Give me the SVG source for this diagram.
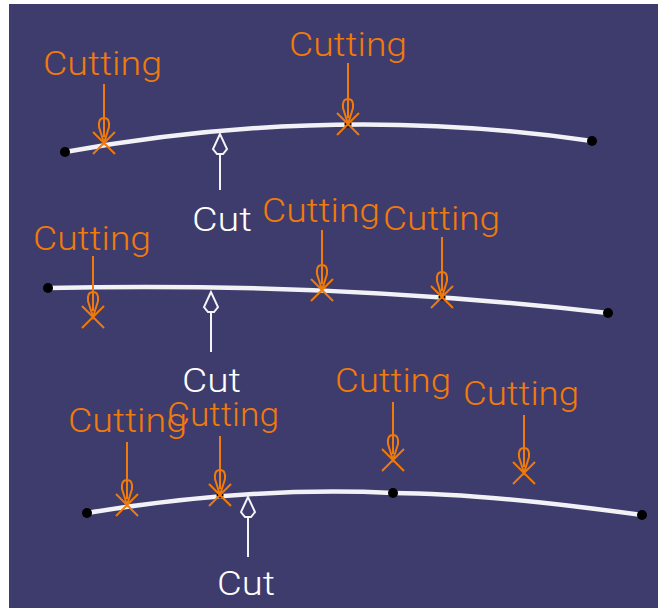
<svg xmlns="http://www.w3.org/2000/svg" xmlns:xlink="http://www.w3.org/1999/xlink" width="658" height="608" viewBox="0 0 658 608">
<style>
.lbl{font-family:Roboto,"Liberation Sans",Arial,sans-serif;font-size:34px;font-weight:300;}
.org{fill:#f07a0a;}
.wht{fill:#ffffff;}
.oline{stroke:#f07a0a;stroke-width:2;fill:none;}
.wline{stroke:#f4f4f8;stroke-width:2;fill:none;}
.curve{stroke:#f2f2f6;stroke-width:4.5;fill:none;stroke-linecap:round;}
.end{fill:#000;}
</style>
<defs>
<g id="cutting">
<path d="M-11,-11 L11,11 M11,-11 L-11,11" stroke="#f07a0a" stroke-width="2" fill="none"/>
<path d="M0,0 L-5,-16 Q-6,-25 0,-25 Q6,-25 5,-16 Z M0,-25 L0,-6" stroke="#f07a0a" stroke-width="2" fill="none"/>
</g>
<g id="cut">
<path d="M0,1 L-7,16 L-3,21 L3,21 L7,16 Z" stroke="#f4f4f8" stroke-width="2" fill="none"/>
</g>
</defs>
<rect x="0" y="0" width="658" height="608" fill="#ffffff"/>
<rect x="9" y="4" width="649" height="604" fill="#3e3c6c"/>
<g id="curves">
<path class="curve" d="M65,152 Q331.5,103 592,141"/>
<path class="curve" d="M48,288 Q332,281.5 608,313"/>
<path class="curve" d="M87,513 Q250,486 393,493"/>
<path class="curve" d="M393,493 Q480,493 642,515"/>
<circle class="end" cx="65" cy="152" r="5"/>
<circle class="end" cx="592" cy="141" r="5"/>
<circle class="end" cx="48" cy="288" r="5"/>
<circle class="end" cx="608" cy="313" r="5"/>
<circle class="end" cx="87" cy="513" r="5"/>
<circle class="end" cx="393" cy="493" r="5"/>
<circle class="end" cx="642" cy="515" r="5"/>
</g>
<g id="connectors">
<line class="oline" x1="104" y1="84" x2="104" y2="118"/>
<line class="oline" x1="348" y1="63" x2="348" y2="99"/>
<line class="wline" x1="220" y1="154" x2="220" y2="190"/>
<line class="oline" x1="93" y1="256" x2="93" y2="292"/>
<line class="oline" x1="322" y1="230" x2="322" y2="265"/>
<line class="oline" x1="442" y1="237" x2="442" y2="272"/>
<line class="wline" x1="211" y1="312" x2="211" y2="352"/>
<line class="oline" x1="127" y1="442" x2="127" y2="480"/>
<line class="oline" x1="220" y1="436" x2="220" y2="470"/>
<line class="oline" x1="393" y1="402" x2="393" y2="435"/>
<line class="oline" x1="524" y1="415" x2="524" y2="448"/>
<line class="wline" x1="248" y1="517" x2="248" y2="557"/>
</g>
<g id="n1a"><text class="lbl org" x="43" y="75" textLength="119" lengthAdjust="spacingAndGlyphs">Cutting</text><use xlink:href="#cutting" x="104" y="143"/></g>
<g id="n1b"><text class="lbl org" x="289" y="56" textLength="118" lengthAdjust="spacingAndGlyphs">Cutting</text><circle class="end" cx="348" cy="124" r="3.5"/><use xlink:href="#cutting" x="348" y="124"/></g>
<g id="n1cut"><text class="lbl wht" x="192" y="231" textLength="60" lengthAdjust="spacingAndGlyphs">Cut</text><use xlink:href="#cut" x="220" y="133"/></g>
<g id="n2a"><text class="lbl org" x="33" y="250" textLength="118" lengthAdjust="spacingAndGlyphs">Cutting</text><use xlink:href="#cutting" x="93" y="317"/></g>
<g id="n2b"><text class="lbl org" x="262" y="222" textLength="118" lengthAdjust="spacingAndGlyphs">Cutting</text><use xlink:href="#cutting" x="322" y="290"/></g>
<g id="n2c"><text class="lbl org" x="383" y="230" textLength="117" lengthAdjust="spacingAndGlyphs">Cutting</text><circle class="end" cx="442" cy="297" r="3.5"/><use xlink:href="#cutting" x="442" y="297"/></g>
<g id="n2cut"><text class="lbl wht" x="182" y="392" textLength="59" lengthAdjust="spacingAndGlyphs">Cut</text><use xlink:href="#cut" x="211" y="291"/></g>
<g id="n3a"><text class="lbl org" x="68" y="432" textLength="119" lengthAdjust="spacingAndGlyphs">Cutting</text><use xlink:href="#cutting" x="127" y="505"/></g>
<g id="n3b"><text class="lbl org" x="167" y="426" textLength="112" lengthAdjust="spacingAndGlyphs">Cutting</text><circle class="end" cx="220" cy="495" r="3.5"/><use xlink:href="#cutting" x="220" y="495"/></g>
<g id="n3c"><text class="lbl org" x="335" y="392" textLength="116" lengthAdjust="spacingAndGlyphs">Cutting</text><use xlink:href="#cutting" x="393" y="460"/></g>
<g id="n3d"><text class="lbl org" x="463" y="405" textLength="116" lengthAdjust="spacingAndGlyphs">Cutting</text><use xlink:href="#cutting" x="524" y="473"/></g>
<g id="n3cut"><text class="lbl wht" x="217" y="595" textLength="58" lengthAdjust="spacingAndGlyphs">Cut</text><use xlink:href="#cut" x="248" y="496"/></g>
</svg>
